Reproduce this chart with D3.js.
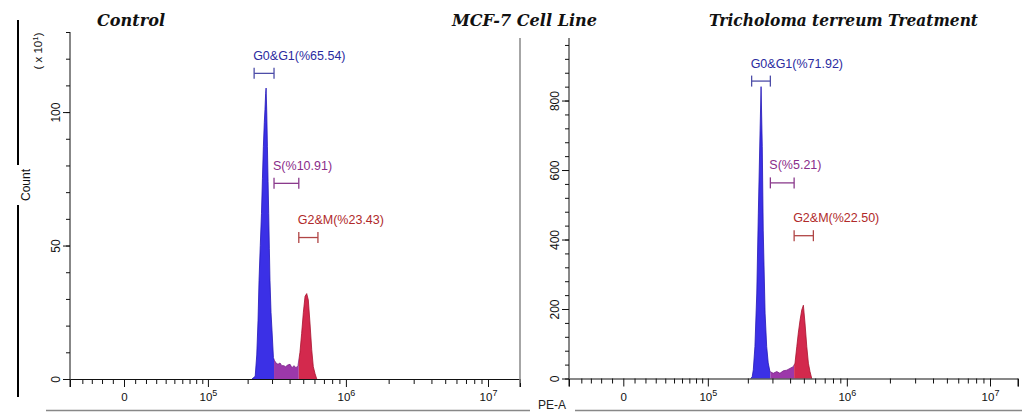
<!DOCTYPE html>
<html><head><meta charset="utf-8">
<script src="https://cdn.jsdelivr.net/npm/d3@7"></script>
<style>body{margin:0;background:#fff}svg{display:block}</style>
</head><body>
<svg id="c" width="1025" height="412"></svg>
<script>
// ---------- data ----------
const titles = ["Control", "MCF-7 Cell Line", "Tricholoma terreum Treatment"];
const phaseNames = ["G0&G1", "S", "G2&M"];
const ctrlPct = ["65.54", "10.91", "23.43"];
const trtPct = ["71.92", "5.21", "22.50"];

// PE-A channel value and count (Control count shown in units of x10^1)
const ctrlPE = [2.15e5, 2.27e5, 2.33e5, 2.38e5, 2.42e5, 2.47e5, 2.52e5, 2.56e5, 2.60e5, 2.64e5, 2.67e5, 2.70e5, 2.72e5, 2.75e5, 2.78e5, 2.81e5, 2.84e5, 2.87e5, 2.90e5, 2.95e5, 3.00e5, 3.07e5, 3.12e5, 3.20e5, 3.31e5, 3.42e5, 3.52e5, 3.64e5, 3.75e5, 3.87e5, 4.03e5, 4.16e5, 4.30e5, 4.44e5, 4.59e5, 4.74e5, 4.87e5, 5.01e5, 5.15e5, 5.29e5, 5.43e5, 5.58e5, 5.74e5, 5.89e5, 6.06e5, 6.23e5];
const ctrlCount = [0, 1, 9, 22, 37, 50, 62, 75, 87, 96, 101, 107, 109, 100, 87, 74, 62, 49, 37, 25, 18, 8, 7, 6, 5.5, 6, 5, 5, 4.6, 5.2, 5.5, 4.2, 5, 4.2, 5, 10, 17, 25, 31, 32, 29.6, 21, 11, 4.6, 2, 0];

const trtPE = [2.10e5, 2.15e5, 2.19e5, 2.25e5, 2.32e5, 2.38e5, 2.45e5, 2.49e5, 2.54e5, 2.58e5, 2.66e5, 2.73e5, 2.80e5, 2.88e5, 3.04e5, 3.22e5, 3.39e5, 3.58e5, 3.79e5, 3.99e5, 4.21e5, 4.33e5, 4.46e5, 4.57e5, 4.70e5, 4.83e5, 4.96e5, 5.09e5, 5.24e5, 5.38e5, 5.52e5, 5.68e5];
const trtCount = [0, 5, 25, 92, 246, 476, 715, 840, 667, 427, 188, 92, 45, 20, 15, 20, 15, 22, 24, 29, 34, 44, 92, 131, 168, 197, 211, 160, 92, 44, 20, 0];

// gate ranges (PE-A) and gate marker levels (count units)
const ctrlGates = [[2.23e5, 3.10e5], [3.10e5, 4.65e5], [4.65e5, 6.35e5]];
const trtGates = [[2.13e5, 2.90e5], [2.90e5, 4.27e5], [4.27e5, 5.83e5]];
const ctrlGateLevel = [114.5, 73.3, 53];
const trtGateLevel = [856, 563, 411];

// axis ticks
const ctrlYMajor = [0, 50, 100];
const ctrlYMinor = [0, 10, 20, 30, 40, 50, 60, 70, 80, 90, 100, 110, 120, 130];
const trtYMajor = [0, 200, 400, 600, 800];
const trtYMinor = [0, 40, 80, 120, 160, 200, 240, 280, 320, 360, 400, 440, 480, 520, 560, 600, 640, 680, 720, 760, 800, 840, 880, 920, 960];
const xMajor = [0, 1e5, 1e6, 1e7];
const xMinor = [-4e4, -3e4, -2e4, -1e4, 1e4, 2e4, 3e4, 4e4, 5e4, 6e4, 7e4, 8e4, 9e4,
  2e5, 3e5, 4e5, 5e5, 6e5, 7e5, 8e5, 9e5, 2e6, 3e6, 4e6, 5e6, 6e6, 7e6, 8e6, 9e6];

// ---------- drawing ----------
const svg = d3.select("#c");
const FONT = "'Liberation Sans', Arial, sans-serif";
const fillCol = ["#3b30e6", "#9c38aa", "#d3294d"];
const lineCol = ["#2316b8", "#7a2088", "#a8132f"];
const labelCol = ["#2b2ba0", "#8a2d8a", "#b02a2a"];
const bracketCol = ["#4d4da8", "#8a3a8c", "#b04545"];
const W = 55000;
const T = v => Math.asinh(v / W);

const panels = [
  {id: "a", x0: 70, x1: 520, xZero: 124, xTop: 488, yBase: 379, yTop: 32, yMax: 130,
   pe: ctrlPE, cnt: ctrlCount, gates: ctrlGates, lvl: ctrlGateLevel, pct: ctrlPct,
   yMajor: ctrlYMajor, yMinor: ctrlYMinor},
  {id: "b", x0: 569, x1: 1018, xZero: 623.3, xTop: 990, yBase: 378.5, yTop: 38, yMax: 980,
   pe: trtPE, cnt: trtCount, gates: trtGates, lvl: trtGateLevel, pct: trtPct,
   yMajor: trtYMajor, yMinor: trtYMinor}
];

panels.forEach(p => {
  const lin = d3.scaleLinear().domain([0, T(1e7)]).range([p.xZero, p.xTop]);
  const xs = v => lin(T(v));
  const ys = d3.scaleLinear().domain([0, p.yMax]).range([p.yBase, p.yTop]);
  const g = svg.append("g");
  const data = p.pe.map((v, i) => ({v, c: p.cnt[i]}));

  // clip regions by gate
  const bounds = [
    [p.x0, xs(p.gates[1][0])],
    [xs(p.gates[1][0]), xs(p.gates[2][0])],
    [xs(p.gates[2][0]), p.x1]
  ];
  bounds.forEach((b, i) => {
    svg.append("clipPath").attr("id", `clip${p.id}${i}`)
      .append("rect").attr("x", b[0]).attr("y", 0).attr("width", b[1] - b[0]).attr("height", 412);
  });
  const area = d3.area().x(d => xs(d.v)).y0(ys(0)).y1(d => ys(d.c));
  const line = d3.line().x(d => xs(d.v)).y(d => ys(d.c));
  bounds.forEach((b, i) => {
    g.append("path").attr("d", area(data)).attr("fill", fillCol[i])
      .attr("clip-path", `url(#clip${p.id}${i})`);
    g.append("path").attr("d", line(data)).attr("fill", "none").attr("stroke", lineCol[i])
      .attr("stroke-width", 0.8).attr("clip-path", `url(#clip${p.id}${i})`);
  });

  // gate brackets and labels
  p.gates.forEach((gt, i) => {
    const xa = xs(gt[0]), xb = xs(gt[1]), y = ys(p.lvl[i]);
    const bg = g.append("g").attr("stroke", bracketCol[i]).attr("stroke-width", 1.3);
    bg.append("line").attr("x1", xa).attr("x2", xb).attr("y1", y).attr("y2", y);
    bg.append("line").attr("x1", xa).attr("x2", xa).attr("y1", y - 5.5).attr("y2", y + 5.5);
    bg.append("line").attr("x1", xb).attr("x2", xb).attr("y1", y - 5.5).attr("y2", y + 5.5);
    g.append("text").attr("x", xa - 1).attr("y", y - 13.5)
      .attr("font-family", FONT).attr("font-size", 12.5).attr("fill", labelCol[i])
      .text(`${phaseNames[i]}(%${p.pct[i]})`);
  });

  // x axes (on transformed values)
  const xDomLeft = lin.invert(p.x0), xDomRight = lin.invert(p.x1);
  const linAxis = lin.copy().domain([xDomLeft, xDomRight]).range([p.x0, p.x1]);
  const xg = g.append("g").attr("transform", `translate(0,${p.yBase})`);
  xg.append("g").call(d3.axisBottom(linAxis).tickValues(xMinor.map(T)).tickSize(5).tickFormat(""))
    .call(a => a.select(".domain").remove());
  const xM = xg.append("g").call(d3.axisBottom(linAxis).tickValues(xMajor.map(T)).tickSize(8)
      .tickSizeOuter(8).tickPadding(5).tickFormat(""));
  xM.selectAll(".tick text").remove();
  xM.selectAll(".tick").each(function(d, i) {
    const v = xMajor[i];
    const t = d3.select(this).append("text").attr("y", 22).attr("fill", "#111")
      .attr("font-family", FONT).attr("font-size", 11.5).attr("text-anchor", "middle");
    if (v === 0) t.text("0");
    else {
      t.append("tspan").text("10");
      t.append("tspan").attr("dy", -5).attr("font-size", 9).text(String(Math.round(Math.log10(v))));
    }
  });
  xg.selectAll("line, path").attr("stroke", "#111");

  // y axes
  const yg = g.append("g").attr("transform", `translate(${p.x0},0)`);
  yg.append("g").call(d3.axisLeft(ys).tickValues(p.yMinor).tickSize(4).tickFormat(""))
    .call(a => a.select(".domain").remove());
  const yM = yg.append("g").call(d3.axisLeft(ys).tickValues(p.yMajor).tickSize(7).tickSizeOuter(0));
  yM.select(".domain").attr("d", `M0,${p.yTop}V${p.yBase + 8}`);
  yM.selectAll(".tick text").attr("x", null).attr("dy", null)
    .attr("transform", "rotate(-90)").attr("y", -10.5).attr("text-anchor", "middle")
    .attr("font-family", FONT).attr("font-size", 12).attr("fill", "#111");
  yg.selectAll("line, path").attr("stroke", "#111");
  yM.attr("font-family", FONT);

  // right end tick of x axis
  g.append("line").attr("x1", p.x1).attr("x2", p.x1).attr("y1", p.yBase).attr("y2", p.yBase + 8)
    .attr("stroke", "#111");
});

// gray vertical separator and bottom lines
svg.append("line").attr("x1", 520).attr("x2", 520).attr("y1", 38).attr("y2", 383)
  .attr("stroke", "#888").attr("stroke-width", 1.5);
svg.append("line").attr("x1", 46).attr("x2", 530).attr("y1", 410.5).attr("y2", 410.5)
  .attr("stroke", "#888").attr("stroke-width", 1.5);
svg.append("line").attr("x1", 575).attr("x2", 1022).attr("y1", 410.5).attr("y2", 410.5)
  .attr("stroke", "#888").attr("stroke-width", 1.5);
svg.append("text").attr("x", 552).attr("y", 409).attr("text-anchor", "middle")
  .attr("font-family", FONT).attr("font-size", 12).attr("fill", "#222").text("PE-A");

// left "Count" bracket line
svg.append("line").attr("x1", 18).attr("x2", 18).attr("y1", 20).attr("y2", 165)
  .attr("stroke", "#000").attr("stroke-width", 2);
svg.append("line").attr("x1", 18).attr("x2", 18).attr("y1", 205).attr("y2", 397)
  .attr("stroke", "#000").attr("stroke-width", 2);
svg.append("text").attr("transform", "translate(30,185) rotate(-90)").attr("text-anchor", "middle")
  .attr("font-family", FONT).attr("font-size", 12).attr("fill", "#111").text("Count");
const xl = svg.append("text").attr("transform", "translate(42,51) rotate(-90)").attr("text-anchor", "middle")
  .attr("font-family", FONT).attr("font-size", 11.5).attr("fill", "#111");
xl.append("tspan").text("( x 10");
xl.append("tspan").attr("dy", -4).attr("font-size", 8).text("1");
xl.append("tspan").attr("dy", 4).text(")");

// titles
const titleX = [97, 452, 709];
const titleW = [68, 145, 269];
titles.forEach((t, i) => {
  svg.append("text").attr("x", titleX[i]).attr("y", 26)
    .attr("font-family", "'DejaVu Serif', serif").attr("font-weight", "bold").attr("font-style", "italic")
    .attr("font-size", 17).attr("fill", "#111")
    .attr("textLength", titleW[i]).attr("lengthAdjust", "spacingAndGlyphs").text(t);
});
</script>
</body></html>
